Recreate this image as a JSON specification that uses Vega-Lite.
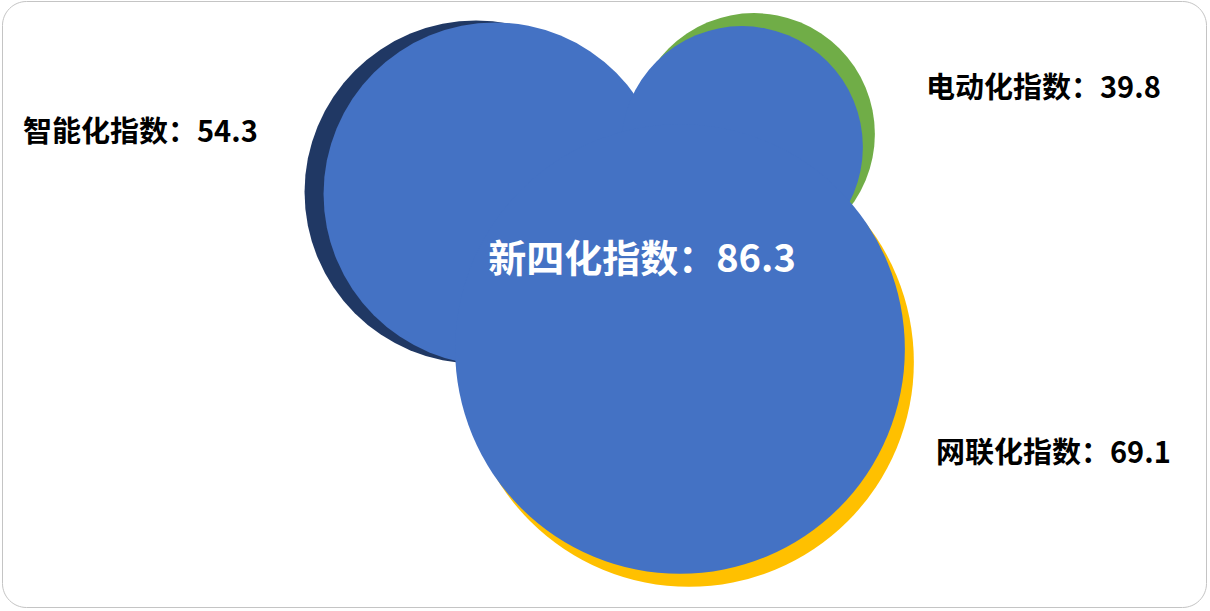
{
  "$schema": "https://vega.github.io/schema/vega-lite/v6.json",
  "width": 1210,
  "height": 611,
  "autosize": {"type": "fit", "contains": "padding"},
  "padding": {"left": 2, "top": 1, "right": 4, "bottom": 4},
  "background": "white",
  "config": {
    "view": {"stroke": "#c4c4c4", "strokeWidth": 1, "cornerRadius": 24},
    "font": "Noto Sans CJK SC"
  },
  "datasets": {
    "bubbles": [
      {"series": "智能化", "part": "shadow", "x": 47.4, "y": 41.5, "value": 54.3},
      {"series": "电动化", "part": "shadow", "x": 75.2, "y": 47.3, "value": 39.8},
      {"series": "网联化", "part": "shadow", "x": 68.7, "y": 24.5, "value": 69.1},
      {"series": "智能化", "part": "top", "x": 49.3, "y": 41.3, "value": 54.3},
      {"series": "电动化", "part": "top", "x": 74.0, "y": 46.0, "value": 39.8},
      {"series": "网联化", "part": "top", "x": 67.8, "y": 25.8, "value": 69.1}
    ],
    "labels": [
      {"kind": "side", "label": "智能化指数：54.3", "x": 2.1, "y": 47.4},
      {"kind": "side", "label": "电动化指数：39.8", "x": 92.4, "y": 51.8},
      {"kind": "side", "label": "网联化指数：69.1", "x": 93.4, "y": 15.3},
      {"kind": "main", "label": "新四化指数：86.3", "x": 64.0, "y": 34.6}
    ]
  },
  "encoding": {
    "x": {"field": "x", "type": "quantitative", "scale": {"domain": [0, 120.4], "nice": false, "zero": false}, "axis": null},
    "y": {"field": "y", "type": "quantitative", "scale": {"domain": [0, 60.6], "nice": false, "zero": false}, "axis": null}
  },
  "layer": [
    {
      "data": {"name": "bubbles"},
      "transform": [{"filter": "datum.part === 'shadow'"}],
      "mark": {"type": "circle", "opacity": 1},
      "encoding": {
        "size": {"field": "value", "type": "quantitative", "scale": {"type": "pow", "exponent": 2.25, "domain": [0, 100], "range": [0, 464580]}, "legend": null},
        "color": {"field": "series", "type": "nominal", "scale": {"domain": ["智能化", "电动化", "网联化"], "range": ["#203864", "#70ad47", "#ffc000"]}, "legend": null}
      }
    },
    {
      "data": {"name": "bubbles"},
      "transform": [{"filter": "datum.part === 'top'"}],
      "mark": {"type": "circle", "opacity": 1, "color": "#4472c4"},
      "encoding": {
        "size": {"field": "value", "type": "quantitative", "scale": {"type": "pow", "exponent": 2.25, "domain": [0, 100], "range": [0, 464580]}, "legend": null}
      }
    },
    {
      "data": {"name": "labels"},
      "transform": [{"filter": "datum.kind === 'side'"}],
      "mark": {"type": "text", "align": "left", "baseline": "middle", "fontSize": 29, "fontWeight": "bold", "color": "#000000"},
      "encoding": {"text": {"field": "label"}}
    },
    {
      "data": {"name": "labels"},
      "transform": [{"filter": "datum.kind === 'main'"}],
      "mark": {"type": "text", "align": "center", "baseline": "middle", "fontSize": 38, "fontWeight": "bold", "color": "#ffffff"},
      "encoding": {"text": {"field": "label"}}
    }
  ]
}
